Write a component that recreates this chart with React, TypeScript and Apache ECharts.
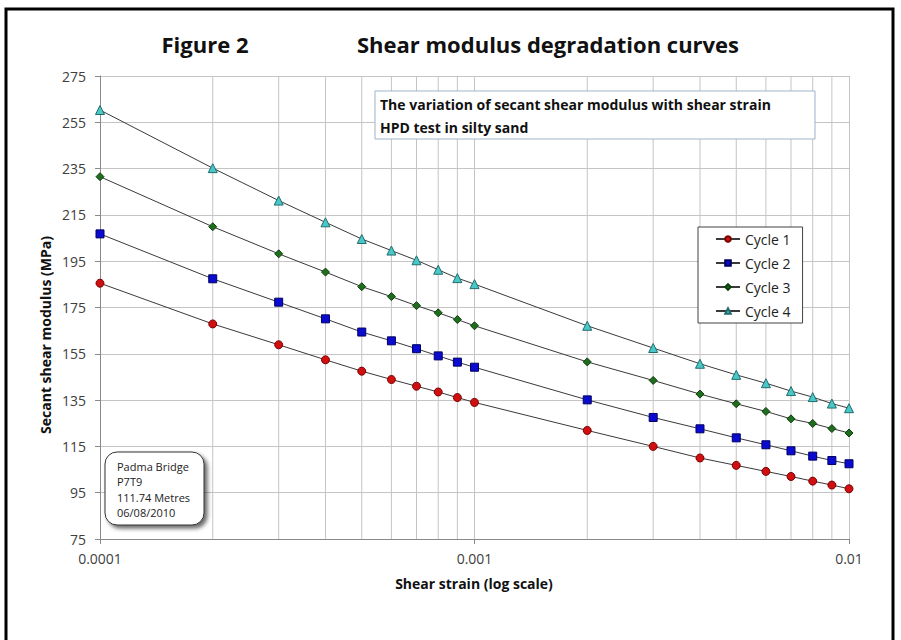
import React, { useEffect, useRef } from "react";
import * as echarts from "echarts";

const strain = [
  0.0001, 0.0002, 0.0003, 0.0004, 0.0005, 0.0006, 0.0007, 0.0008, 0.0009,
  0.001, 0.002, 0.003, 0.004, 0.005, 0.006, 0.007, 0.008, 0.009, 0.01,
];
const cycle1 = [185.5, 167.9, 158.9, 152.4, 147.5, 143.9, 141.0, 138.5, 136.1, 134.0, 121.9, 115.0, 110.0, 106.8, 104.2, 102.0, 100.0, 98.3, 96.7];
const cycle2 = [206.8, 187.4, 177.3, 170.1, 164.4, 160.6, 157.2, 154.1, 151.4, 149.2, 135.1, 127.5, 122.6, 118.7, 115.7, 113.1, 110.8, 108.9, 107.5];
const cycle3 = [231.5, 209.9, 198.2, 190.3, 184.0, 179.7, 175.8, 172.7, 169.8, 167.1, 151.5, 143.5, 137.6, 133.4, 130.1, 126.9, 124.9, 122.7, 120.8];
const cycle4 = [260.3, 235.2, 221.2, 211.8, 204.6, 199.6, 195.4, 191.3, 187.7, 185.1, 167.1, 157.5, 150.7, 145.9, 142.3, 138.9, 136.3, 133.5, 131.5];
const minorGrid = [0.0002, 0.0003, 0.0004, 0.0005, 0.0006, 0.0007, 0.0008, 0.0009, 0.002, 0.003, 0.004, 0.005, 0.006, 0.007, 0.008, 0.009];
const yRange = [75, 275];
const xTickLabels = ["0.0001", "0.001", "0.01"];
const seriesNames = ["Cycle 1", "Cycle 2", "Cycle 3", "Cycle 4"];
const noteLines = ["Padma Bridge", "P7T9", "111.74 Metres", "06/08/2010"];

const FONT = "'Open Sans', 'DejaVu Sans', sans-serif";

export default function App() {
  const ref = useRef<HTMLDivElement>(null);
  useEffect(() => {
    if (!ref.current) return;
    const chart = echarts.init(ref.current, undefined, { renderer: "svg" });
    const pairs = (vals: number[]) => strain.map((s, i) => [s, vals[i]]);
    const lineStyle = { color: "#3a3a3a", width: 1 };
    const mk = (name: string, vals: number[], symbol: string, size: number, fill: string, border: string) => ({
      name,
      type: "line",
      data: pairs(vals),
      symbol,
      symbolSize: size,
      showSymbol: true,
      color: fill,
      lineStyle,
      itemStyle: { color: fill, borderColor: border, borderWidth: 1 },
      z: 3,
    });
    const gridData: any[] = [];
    minorGrid.forEach((v) => {
      gridData.push([v, yRange[0]], [v, yRange[1]], [v, null]);
    });
    const option: any = {
      animation: false,
      backgroundColor: "#ffffff",
      textStyle: { fontFamily: FONT },
      grid: { left: 100, right: 52, top: 76, bottom: 101, containLabel: false },
      xAxis: {
        type: "log",
        logBase: 10,
        min: 0.0001,
        max: 0.01,
        axisLine: { show: true, lineStyle: { color: "#8a8a8a", width: 1 } },
        axisTick: { show: true, inside: false, length: 5, lineStyle: { color: "#8a8a8a" } },
        axisLabel: {
          margin: 12,
          fontSize: 14,
          color: "#404040",
          fontFamily: FONT,
          formatter: (v: number) => {
            const idx = Math.round(Math.log10(v)) + 4;
            return xTickLabels[idx] ?? "";
          },
        },
        splitLine: { show: true, lineStyle: { color: "#c4c4c4", width: 1 } },
        minorTick: { show: false },
      },
      yAxis: {
        type: "value",
        min: yRange[0],
        max: yRange[1],
        interval: 20,
        axisLine: { show: true, lineStyle: { color: "#8a8a8a", width: 1 } },
        axisTick: { show: true, inside: false, length: 5, lineStyle: { color: "#8a8a8a" } },
        axisLabel: { margin: 14, fontSize: 14, color: "#404040", fontFamily: FONT },
        splitLine: { show: true, lineStyle: { color: "#c4c4c4", width: 1 } },
      },
      legend: {
        data: seriesNames,
        orient: "vertical",
        left: 698,
        top: 227,
        padding: [5, 12, 5, 17],
        itemGap: 10,
        itemWidth: 24,
        itemHeight: 7,
        backgroundColor: "#ffffff",
        borderColor: "#404040",
        borderWidth: 1,
        borderRadius: 0,
        textStyle: { fontSize: 14, color: "#222", fontFamily: FONT, lineHeight: 14 },
        selectedMode: false,
      },
      series: [
        {
          name: "minor grid",
          type: "line",
          data: gridData,
          showSymbol: false,
          symbol: "none",
          connectNulls: false,
          lineStyle: { color: "#c4c4c4", width: 1 },
          silent: true,
          emphasis: { disabled: true },
          z: 1,
        },
        mk("Cycle 1", cycle1, "circle", 8, "#d01010", "#7a0000"),
        mk("Cycle 2", cycle2, "rect", 8, "#0a0ad0", "#000060"),
        mk("Cycle 3", cycle3, "diamond", 8, "#1e6e1e", "#0c3d0c"),
        mk("Cycle 4", cycle4, "triangle", 9, "#48c8c8", "#236c6c"),
      ],
      graphic: [
        {
          type: "rect",
          z: 100,
          shape: { x: 6, y: 9, width: 887, height: 680 },
          style: { fill: "none", stroke: "#000", lineWidth: 3 },
          silent: true,
        },
        {
          type: "text",
          z: 100,
          x: 205,
          y: 44,
          style: { text: "Figure 2", font: `bold 22px ${FONT}`, fill: "#111", textAlign: "center", textVerticalAlign: "middle" },
        },
        {
          type: "text",
          z: 100,
          x: 548,
          y: 44,
          style: { text: "Shear modulus degradation curves", font: `bold 22px ${FONT}`, fill: "#111", textAlign: "center", textVerticalAlign: "middle" },
        },
        {
          type: "rect",
          z: 100,
          shape: { x: 375, y: 91, width: 440, height: 48 },
          style: { fill: "#fff", stroke: "#9cb3c9", lineWidth: 1 },
        },
        {
          type: "text",
          z: 101,
          x: 380,
          y: 104,
          style: { text: "The variation of secant shear modulus with shear strain", font: `bold 14px ${FONT}`, fill: "#111", textVerticalAlign: "middle" },
        },
        {
          type: "text",
          z: 101,
          x: 380,
          y: 127,
          style: { text: "HPD test in silty sand", font: `bold 14px ${FONT}`, fill: "#111", textVerticalAlign: "middle" },
        },
        {
          type: "rect",
          z: 100,
          shape: { x: 105, y: 452, width: 99, height: 73, r: 12 },
          style: { fill: "#fff", stroke: "#333", lineWidth: 1, shadowBlur: 4, shadowOffsetX: 3, shadowOffsetY: 3, shadowColor: "rgba(0,0,0,0.6)" },
        },
        ...noteLines.map((t, i) => ({
          type: "text",
          z: 101,
          x: 117,
          y: 466 + i * 15.6,
          style: { text: t, font: `11px ${FONT}`, fill: "#222", textVerticalAlign: "middle" },
        })),
        {
          type: "text",
          z: 100,
          x: 45,
          y: 335,
          rotation: Math.PI / 2,
          style: { text: "Secant shear modulus (MPa)", font: `bold 14px ${FONT}`, fill: "#111", textAlign: "center", textVerticalAlign: "middle" },
        },
        {
          type: "text",
          z: 100,
          x: 474,
          y: 583,
          style: { text: "Shear strain (log scale)", font: `bold 14px ${FONT}`, fill: "#111", textAlign: "center", textVerticalAlign: "middle" },
        },
      ],
    };
    chart.setOption(option);
    return () => chart.dispose();
  }, []);
  return (
    <div
      ref={ref}
      style={{ position: "absolute", left: 0, top: 0, width: 901, height: 640, background: "#fff" }}
    />
  );
}
